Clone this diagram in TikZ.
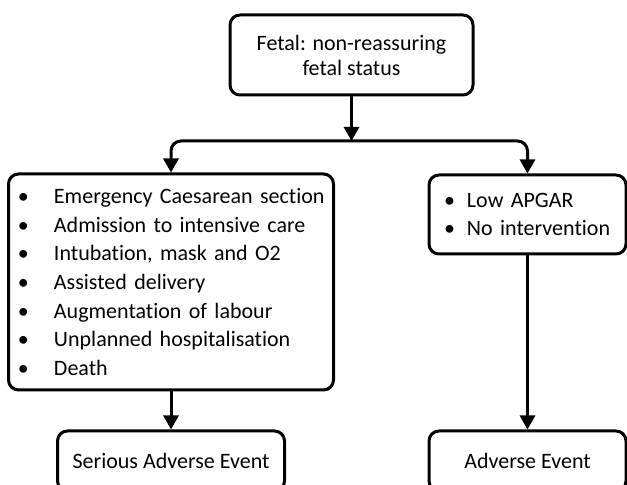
\documentclass[tikz,border=0pt]{standalone}
\usepackage{fontspec}
\setmainfont{Carlito}[Ligatures=NoCommon]
\usetikzlibrary{arrows.meta}
\newcommand{\bul}[2][18pt]{\makebox[#1][l]{\textbullet}\mbox{#2}}

\begin{document}
\begin{tikzpicture}[x=0.5pt,y=-0.5pt,line width=1.5pt,>={Triangle[length=7pt,width=7.5pt]},
  box/.style={draw,rounded corners=5pt,inner sep=0pt,font=\fontsize{11pt}{12.5pt}\selectfont},
  list/.style={box,align=left,font=\fontsize{11pt}{14.3pt}\selectfont}]
  \clip (0,0) rectangle (627,485);
      \coordinate (T) at (351.5,55);
         \coordinate (L) at (171,282);
           \coordinate (R) at (527.5,214.5);
            \coordinate (SL) at (171,461);
              \coordinate (SR) at (527.5,461);
                 \coordinate (K) at (351.5,141);
  \node (fetal) at (T)[box,align=center,minimum width=121.5pt,minimum height=40pt]{Fetal: non-reassuring\\fetal status};
  \node (serlist) at (L)[list,text width=153pt,inner xsep=4.75pt,minimum height=108pt]{\bul{Emergency Caesarean section}\\\bul{Admission to intensive care}\\\bul{Intubation, mask and O2}\\\bul{Assisted delivery}\\\bul{Augmentation of labour}\\\bul{Unplanned hospitalisation}\\\bul{Death}};
  \node (advlist) at (R)[list,text width=83.5pt,inner xsep=7.5pt,minimum height=39.5pt]{\bul[11.5pt]{Low APGAR}\\\bul[11.5pt]{No intervention}};
  \node (sae) at (SL)[box,minimum width=113.5pt,minimum height=30pt]{Serious Adverse Event};
  \node (ae) at (SR)[box,minimum width=98.5pt,minimum height=30pt]{Adverse Event};
  \draw[->](fetal)--(K);
  \draw[<->,rounded corners=5pt](serlist)|-(K)-|(advlist);
  \draw[->](serlist)--(sae);
  \draw[->](advlist)--(ae);
\end{tikzpicture}
\end{document}
